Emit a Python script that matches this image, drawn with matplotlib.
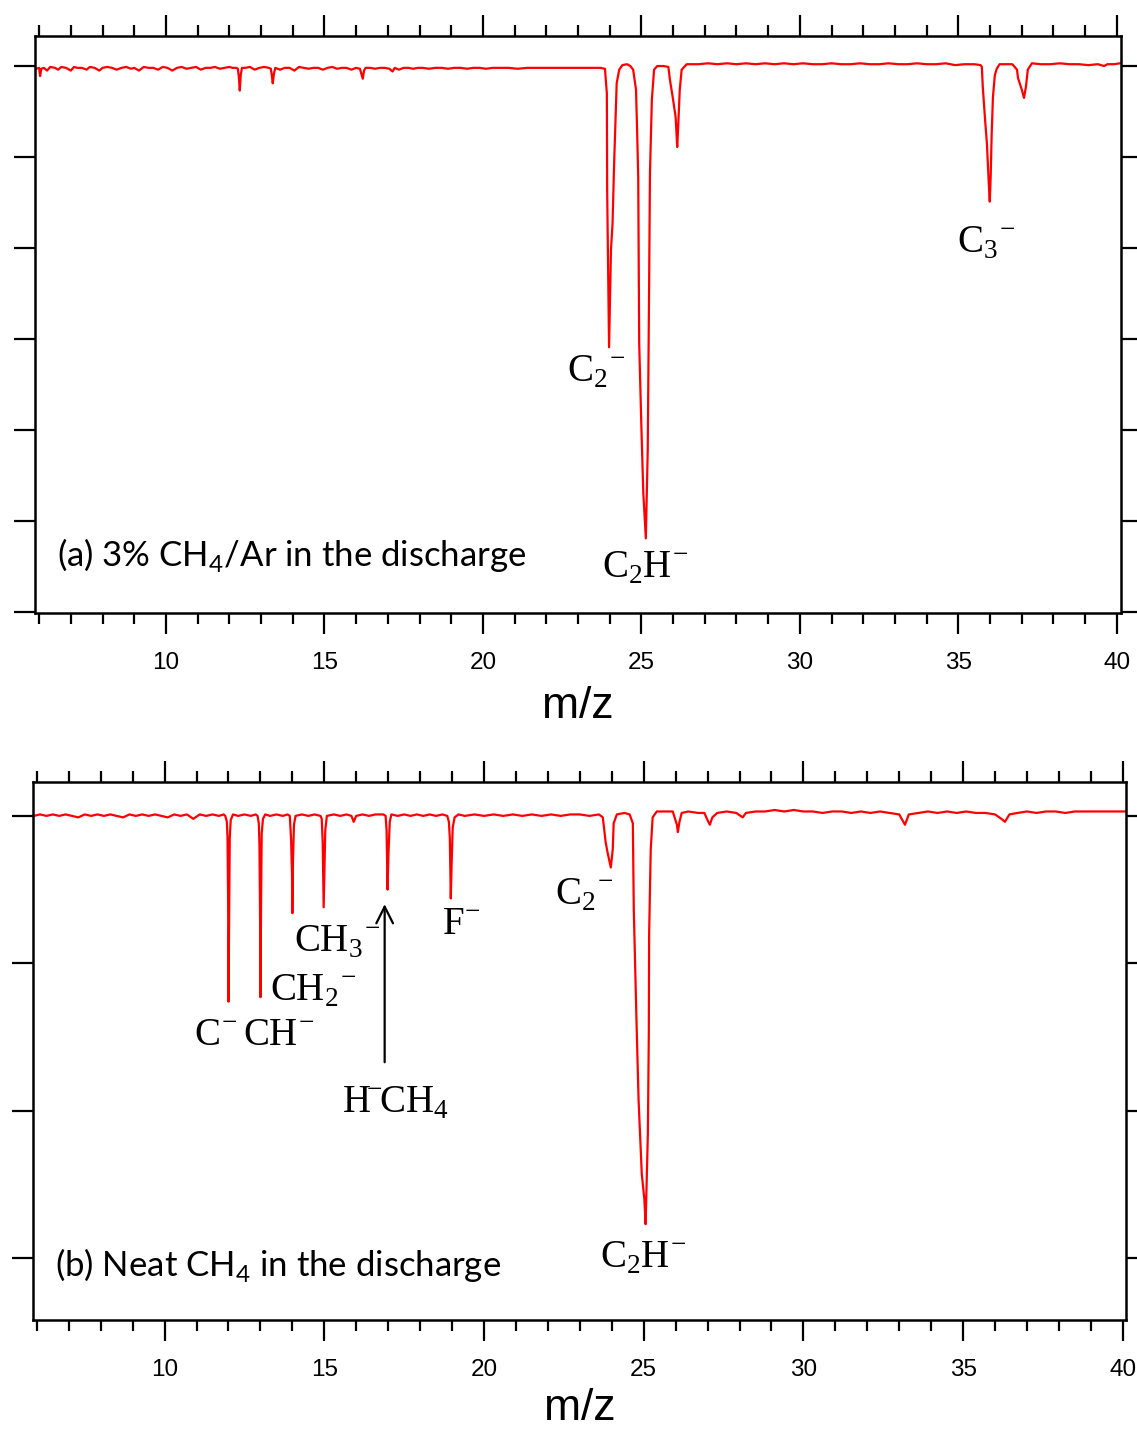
import matplotlib
matplotlib.use("Agg")
import matplotlib.pyplot as plt
from matplotlib.ticker import MultipleLocator

plt.rcParams['mathtext.fontset'] = 'custom'
plt.rcParams['mathtext.rm'] = 'Liberation Serif'
plt.rcParams['mathtext.sf'] = 'Lato'

# ---- (a) 3% CH4/Ar : trace (m/z, signal in tick units) ----
top_mz = [5.9, 6.0, 6.03, 6.07, 6.15, 6.25, 6.35, 6.5, 6.6, 6.7, 6.85, 7.0, 7.1, 7.2,
          7.35, 7.5, 7.6, 7.75, 7.9, 8.0, 8.15, 8.3, 8.45, 8.6, 8.75, 8.9, 9.0, 9.15,
          9.3, 9.45, 9.6, 9.75, 9.9, 10.05, 10.2, 10.35, 10.5, 10.65, 10.8, 10.95,
          11.1, 11.25, 11.4, 11.55, 11.7, 11.85, 12.0, 12.1, 12.22,
          12.27, 12.3, 12.33, 12.36, 12.4, 12.5, 12.65, 12.8, 12.95, 13.1, 13.25,
          13.31, 13.34, 13.37, 13.41, 13.45, 13.6, 13.75, 13.9, 14.05, 14.2, 14.35,
          14.5, 14.65, 14.8, 14.95, 15.1, 15.25, 15.4, 15.55, 15.7, 15.85, 16.0,
          16.12, 16.17, 16.21, 16.25, 16.3, 16.45, 16.6, 16.75, 16.9, 17.05, 17.15,
          17.22, 17.35, 17.5, 17.65, 17.8, 17.95, 18.1, 18.3, 18.5, 18.7, 18.9, 19.1,
          19.3, 19.5, 19.7, 19.9, 20.1, 20.3, 20.5, 20.8, 21.1, 21.4, 21.8, 22.2,
          22.6, 23.0, 23.4, 23.7,
          23.85, 23.91, 23.92, 23.98, 24.04, 24.09, 24.14, 24.22, 24.3, 24.4, 24.55,
          24.65, 24.74, 24.83, 24.87, 24.9, 24.93, 25.0, 25.06, 25.14, 25.2, 25.24,
          25.27, 25.33, 25.4, 25.5, 25.7, 25.85, 25.9, 26.0, 26.08, 26.13, 26.16,
          26.21, 26.27, 26.43,
          26.8, 27.1, 27.4, 27.7, 28.0, 28.3, 28.6, 28.9, 29.2, 29.5, 29.8, 30.1,
          30.4, 30.7, 31.0, 31.3, 31.6, 31.9, 32.2, 32.5, 32.8, 33.1, 33.4, 33.7,
          34.0, 34.3, 34.6, 34.9, 35.2, 35.5, 35.7,
          35.74, 35.77, 35.84, 35.9, 35.96, 35.99, 36.02, 36.05, 36.09, 36.15, 36.21,
          36.3, 36.5, 36.7, 36.85, 36.88, 37.0, 37.07, 37.13, 37.19, 37.32,
          37.6, 37.9, 38.2, 38.5, 38.8, 39.1, 39.4, 39.6, 39.7, 39.9, 40.1]
top_sig = [-0.03, -0.02, -0.11, -0.03, -0.02, -0.05, -0.01, -0.02, -0.04, -0.01, -0.02,
           -0.05, -0.01, -0.02, -0.02, -0.04, -0.01, -0.02, -0.05, -0.02, -0.01, -0.02,
           -0.04, -0.02, -0.01, -0.03, -0.02, -0.05, -0.01, -0.02, -0.02, -0.04, -0.01,
           -0.02, -0.05, -0.02, -0.01, -0.03, -0.02, -0.01, -0.04, -0.02, -0.02, -0.01,
           -0.03, -0.02, -0.01, -0.02, -0.02,
           -0.03, -0.12, -0.27, -0.10, -0.02, -0.02, -0.01, -0.04, -0.02, -0.01, -0.02,
           -0.03, -0.10, -0.19, -0.08, -0.02, -0.04, -0.02, -0.02, -0.05, -0.01, -0.02,
           -0.03, -0.02, -0.02, -0.04, -0.02, -0.01, -0.03, -0.02, -0.02, -0.04, -0.02,
           -0.03, -0.09, -0.14, -0.05, -0.02, -0.02, -0.03, -0.02, -0.02, -0.03, -0.06,
           -0.02, -0.04, -0.02, -0.02, -0.03, -0.02, -0.02, -0.03, -0.02, -0.02, -0.03,
           -0.02, -0.02, -0.03, -0.02, -0.02, -0.03, -0.02, -0.02, -0.02, -0.03, -0.02,
           -0.02, -0.02, -0.02, -0.02, -0.02, -0.02,
           -0.03, -0.30, -1.36, -3.09, -2.02, -1.73, -1.07, -0.19, -0.04, 0.01, 0.02,
           0.0, -0.04, -0.26, -0.78, -1.22, -3.04, -3.97, -4.69, -5.19, -4.22, -2.57,
           -1.18, -0.37, -0.04, 0.0, 0.0, -0.01, -0.15, -0.37, -0.56, -0.89, -0.67,
           -0.26, -0.04, 0.02,
           0.02, 0.03, 0.02, 0.03, 0.02, 0.03, 0.02, 0.03, 0.02, 0.03, 0.02, 0.03,
           0.02, 0.02, 0.03, 0.02, 0.02, 0.03, 0.02, 0.02, 0.03, 0.02, 0.02, 0.03,
           0.02, 0.02, 0.03, 0.01, 0.02, 0.02, 0.01,
           -0.01, -0.23, -0.58, -0.85, -1.30, -1.49, -1.20, -0.75, -0.34, -0.10, -0.03,
           0.02, 0.02, 0.02, -0.04, -0.13, -0.26, -0.35, -0.23, -0.04, 0.03,
           0.02, 0.02, 0.03, 0.02, 0.02, 0.01, 0.02, 0.0, 0.02, 0.02, 0.03]

# ---- (b) Neat CH4 ----
bot_mz = [5.9, 6.1, 6.3, 6.5, 6.7, 6.9, 7.1, 7.3, 7.5, 7.7, 7.9, 8.1, 8.3, 8.5, 8.7,
          8.9, 9.1, 9.3, 9.5, 9.7, 9.9, 10.1, 10.3, 10.5, 10.7, 10.9, 11.1, 11.3,
          11.5, 11.7, 11.85,
          11.9, 11.95, 11.97, 11.99, 12.0, 12.02, 12.04, 12.07, 12.14,
          12.3, 12.5, 12.7, 12.85,
          12.91, 12.95, 12.97, 12.99, 13.0, 13.02, 13.04, 13.08, 13.15,
          13.3, 13.5, 13.7, 13.85,
          13.92, 13.96, 13.99, 14.0, 14.02, 14.05, 14.1,
          14.3, 14.5, 14.7, 14.88,
          14.92, 14.95, 14.98, 15.0, 15.03, 15.08,
          15.3, 15.5, 15.7, 15.85, 15.92, 16.0, 16.2, 16.4, 16.6, 16.85,
          16.92, 16.95, 16.98, 17.01, 17.05, 17.1,
          17.3, 17.5, 17.7, 17.9, 18.1, 18.3, 18.5, 18.7, 18.85,
          18.9, 18.93, 18.96, 18.99, 19.02, 19.08, 19.2,
          19.4, 19.7, 20.0, 20.3, 20.6, 20.9, 21.2, 21.5, 21.8, 22.1, 22.4, 22.7,
          23.0, 23.3, 23.6,
          23.72, 23.81, 23.87, 23.97, 24.03, 24.06, 24.16, 24.4, 24.56, 24.66,
          24.69, 24.78, 24.84, 24.94, 25.02, 25.06, 25.13, 25.16, 25.17, 25.22,
          25.28, 25.41, 25.6, 25.91, 26.04, 26.07, 26.12, 26.19,
          26.4, 26.7, 26.9, 27.0, 27.07, 27.15, 27.3, 27.6, 27.9, 28.1, 28.2, 28.5,
          28.8, 29.1, 29.4, 29.7, 30.0, 30.3, 30.6, 30.9, 31.2, 31.5, 31.8, 32.1,
          32.4, 32.7, 33.0, 33.18, 33.3, 33.6, 33.9, 34.2, 34.5, 34.8, 35.1, 35.4,
          35.7, 36.0, 36.2, 36.31, 36.45, 36.7, 37.0, 37.3, 37.6, 37.9, 38.2, 38.5,
          38.8, 39.1, 39.4, 39.7, 40.0, 40.2]
bot_sig = [0.0, 0.01, 0.0, 0.01, 0.0, 0.01, 0.0, -0.01, 0.01, 0.0, 0.01, 0.0, 0.01,
           0.0, -0.01, 0.01, 0.0, 0.01, 0.0, 0.01, 0.0, -0.01, 0.01, 0.0, 0.01, -0.02,
           0.01, 0.0, 0.01, 0.0, 0.01,
           0.0, -0.04, -0.15, -0.60, -1.26, -0.70, -0.15, -0.03, 0.01,
           0.0, 0.01, 0.0, 0.01,
           0.0, -0.05, -0.20, -0.70, -1.23, -0.60, -0.12, -0.02, 0.01,
           0.0, 0.01, 0.0, 0.01,
           0.0, -0.16, -0.40, -0.66, -0.30, -0.06, 0.0,
           0.01, 0.0, 0.01, 0.0,
           -0.02, -0.18, -0.62, -0.40, -0.10, 0.0,
           0.01, 0.0, 0.01, 0.0, -0.04, 0.0, 0.01, 0.0, 0.01, 0.01,
           0.0, -0.10, -0.50, -0.25, -0.04, 0.01,
           0.0, 0.01, 0.0, 0.01, 0.0, 0.01, 0.0, 0.01, 0.0,
           -0.04, -0.15, -0.56, -0.30, -0.08, -0.01, 0.01,
           0.0, 0.01, 0.0, 0.01, 0.0, 0.01, 0.0, 0.01, 0.0, 0.01, 0.0, 0.01,
           0.01, 0.0, 0.01,
           -0.01, -0.18, -0.25, -0.35, -0.23, -0.05, 0.01, 0.02, 0.01, -0.05,
           -0.64, -1.44, -1.93, -2.43, -2.60, -2.77, -2.16, -1.48, -0.80, -0.23,
           -0.01, 0.03, 0.03, 0.03, -0.06, -0.11, -0.04, 0.02,
           0.03, 0.02, 0.02, -0.03, -0.06, -0.01, 0.02, 0.03, 0.02, -0.01, 0.02, 0.03,
           0.03, 0.04, 0.03, 0.04, 0.03, 0.03, 0.02, 0.03, 0.03, 0.02, 0.03, 0.02,
           0.03, 0.02, 0.01, -0.06, 0.01, 0.02, 0.03, 0.02, 0.03, 0.02, 0.03, 0.02,
           0.02, 0.01, -0.02, -0.04, 0.01, 0.02, 0.03, 0.02, 0.03, 0.03, 0.02, 0.03,
           0.03, 0.03, 0.03, 0.03, 0.03, 0.03]

# peak labels: (text, m/z, signal)
top_labels = [(r'C$_2{}^{\!-}$', 23.56, -3.36), (r'C$_2$H$^{\!-}$', 25.11, -5.52),
              (r'C$_3{}^{\!-}$', 35.87, -1.95)]
bot_labels = [(r'C$_2{}^{\!-}$', 23.15, -0.54), (r'C$_2$H$^{\!-}$', 24.97, -3.0),
              (r'F$^{\!-}$', 19.30, -0.74), (r'CH$_3{}^{\!-}$', 15.39, -0.86),
              (r'CH$_2{}^{\!-}$', 14.64, -1.19), (r'C$^{\!-}$', 11.60, -1.49),
              (r'CH$^{\!-}$', 13.56, -1.49),
              (r'H$^{\!\!-}\hspace{-0.25}$CH$_4$', 17.23, -1.95)]

W, H = 1137, 1433
fig = plt.figure(figsize=(W / 100, H / 100), dpi=100)
ax1 = fig.add_axes([35 / W, 1 - 613 / H, (1121 - 35) / W, (613 - 36) / H])
ax2 = fig.add_axes([33 / W, 1 - 1320 / H, (1126 - 33) / W, (1320 - 782) / H])

ax1.plot(top_mz, top_sig, color='red', lw=1.6)
ax2.plot(bot_mz, bot_sig, color='red', lw=1.6)

ax1.set_ylim(-6.01, 0.33)
ax2.set_ylim(-3.42, 0.23)
ax1.set_xlim(5.87, 40.13)
ax2.set_xlim(5.88, 40.1)

for ax, lp in ((ax1, 9), (ax2, 5)):
    ax.xaxis.set_major_locator(MultipleLocator(5))
    ax.xaxis.set_minor_locator(MultipleLocator(1))
    ax.yaxis.set_major_locator(MultipleLocator(1))
    ax.tick_params(which='both', direction='out', top=True, right=True,
                   labelleft=False, width=1.6, labelsize=17.5, pad=13)
    ax.tick_params(which='major', length=15)
    ax.tick_params(which='minor', length=8)
    for s in ax.spines.values():
        s.set_linewidth(1.8)
    ax.set_xlabel('m/z', fontsize=32, fontfamily='Liberation Sans', labelpad=lp)
    for lab in ax.get_xticklabels():
        lab.set_fontfamily('Liberation Sans')

for txt, x, y in top_labels:
    ax1.text(x, y, txt, fontsize=28, fontfamily='Liberation Serif', ha='center', va='center')
for txt, x, y in bot_labels:
    ax2.text(x, y, txt, fontsize=28, fontfamily='Liberation Serif', ha='center', va='center')

ax2.annotate('', xy=(16.89, -0.58), xytext=(16.89, -1.69),
             arrowprops=dict(arrowstyle='->', color='black', lw=1.6, mutation_scale=30))

ax1.text(6.56, -5.37, r'(a) 3% CH$_\mathsf{4}$/Ar in the discharge', fontsize=25,
         fontfamily='Lato', ha='left', va='center')
ax2.text(6.56, -3.05, r'(b) Neat CH$_\mathsf{4}$ in the discharge', fontsize=25,
         fontfamily='Lato', ha='left', va='center')

fig.savefig('out.png', dpi=100)
